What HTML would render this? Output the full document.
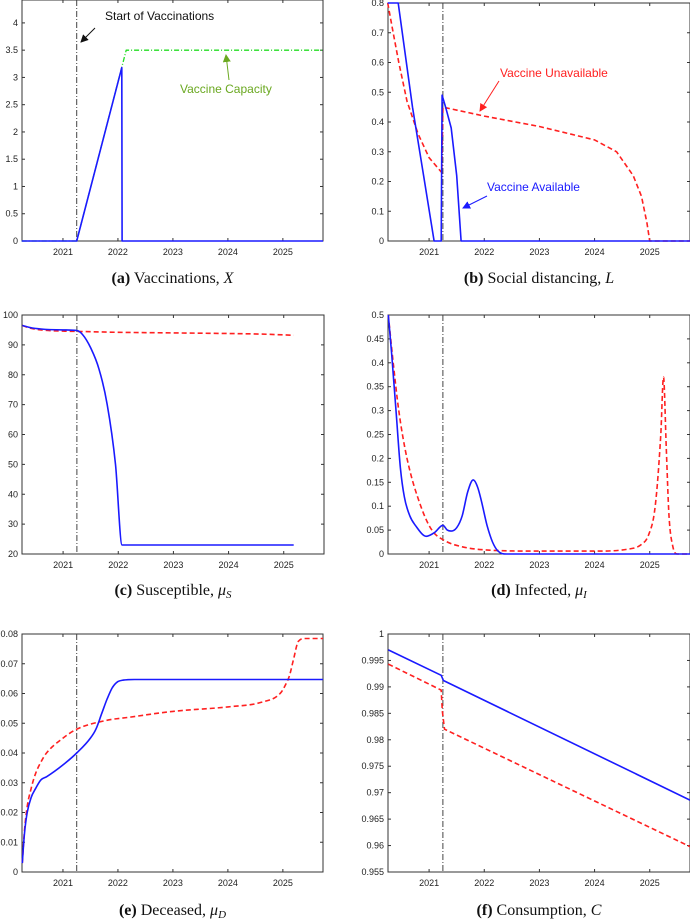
<!DOCTYPE html>
<html><head><meta charset="utf-8"><style>
html,body{margin:0;padding:0;background:#fff;}
svg{display:block;}
text{font-family:"Liberation Sans",sans-serif;}
.cap{font-family:"Liberation Serif",serif;font-size:16px;}
</style></head><body>
<svg id="fig" width="690" height="922" viewBox="0 0 690 922"></svg>
<script>
const xTicks=[2021,2022,2023,2024,2025];
const vacStart=2021.25;
// (a)
const aBlueX=[2020.25,2021.25,2022.07,2022.075,2025.73];
const aBlueY=[0,0,3.18,0,0];
const aGreenX=[2020.25,2021.25,2022.15,2025.73];
const aGreenY=[0,0,3.5,3.5];
const aTicks=[0,0.5,1,1.5,2,2.5,3,3.5,4];
// (b)
const bBlueX=[2020.25,2020.44,2020.7,2020.9,2021.09,2021.22,2021.235,2021.3,2021.4,2021.5,2021.58,2025.73];
const bBlueY=[0.8,0.8,0.45,0.22,0,0,0.49,0.45,0.38,0.22,0,0];
const bRedX=[2020.25,2020.35,2020.45,2020.6,2020.8,2021.0,2021.23,2021.25,2022,2023,2024,2024.4,2024.7,2024.85,2024.95,2025.0,2025.73];
const bRedY=[0.8,0.7,0.6,0.47,0.36,0.28,0.23,0.45,0.42,0.385,0.34,0.3,0.22,0.15,0.06,0,0];
const bTicks=[0,0.1,0.2,0.3,0.4,0.5,0.6,0.7,0.8];
// (c)
const cBlueX=[2020.26,2020.4,2020.6,2021.0,2021.25,2021.35,2021.5,2021.65,2021.8,2021.95,2022.07,2025.18];
const cBlueY=[96.5,95.8,95.3,95.0,94.8,93.5,89,82,70,50,23,23];
const cRedX=[2020.26,2020.4,2020.6,2021.0,2021.25,2022,2023,2024,2024.6,2025.18];
const cRedY=[96.5,95.6,95.0,94.6,94.5,94.2,94.0,93.8,93.6,93.2];
const cTicks=[20,30,40,50,60,70,80,90,100];
// (d)
const dBlueX=[2020.26,2020.32,2020.4,2020.48,2020.55,2020.65,2020.75,2020.95,2021.1,2021.25,2021.33,2021.4,2021.5,2021.6,2021.7,2021.8,2021.88,2021.95,2022.05,2022.15,2022.25,2022.4,2025.73];
const dBlueY=[0.5,0.42,0.3,0.18,0.12,0.08,0.06,0.037,0.045,0.06,0.05,0.048,0.055,0.08,0.13,0.155,0.14,0.11,0.06,0.025,0.006,0,0];
const dRedX=[2020.26,2020.35,2020.45,2020.6,2020.85,2021.05,2021.3,2021.6,2022.1,2023,2024,2024.6,2024.85,2024.98,2025.1,2025.2,2025.25,2025.3,2025.35,2025.42,2025.5,2025.73];
const dRedY=[0.5,0.4,0.3,0.2,0.1,0.05,0.027,0.015,0.008,0.006,0.006,0.01,0.02,0.04,0.1,0.25,0.37,0.22,0.08,0.015,0,0];
const dTicks=[0,0.05,0.1,0.15,0.2,0.25,0.3,0.35,0.4,0.45,0.5];
// (e)
const eBlueX=[2020.26,2020.3,2020.35,2020.42,2020.5,2020.6,2020.7,2021.0,2021.25,2021.5,2021.6,2021.7,2021.8,2021.9,2022.0,2022.1,2022.3,2025.73];
const eBlueY=[0.003,0.013,0.02,0.025,0.028,0.031,0.032,0.036,0.04,0.045,0.048,0.053,0.058,0.062,0.064,0.0645,0.0647,0.0647];
const eRedX=[2020.26,2020.3,2020.35,2020.42,2020.5,2020.6,2020.7,2021.0,2021.25,2021.8,2022.2,2023,2024,2024.6,2024.95,2025.05,2025.12,2025.2,2025.28,2025.4,2025.73];
const eRedY=[0.003,0.014,0.022,0.028,0.033,0.037,0.04,0.045,0.048,0.051,0.052,0.054,0.0555,0.057,0.06,0.063,0.066,0.072,0.0775,0.0785,0.0785];
const eTicks=[0,0.01,0.02,0.03,0.04,0.05,0.06,0.07,0.08];
// (f)
const fBlueX=[2020.26,2021.22,2021.26,2025.73];
const fBlueY=[0.997,0.9922,0.9912,0.9686];
const fRedX=[2020.26,2021.22,2021.24,2021.28,2025.73];
const fRedY=[0.9943,0.9894,0.9855,0.982,0.9598];
const fTicks=[0.955,0.96,0.965,0.97,0.975,0.98,0.985,0.99,0.995,1];

const NS="http://www.w3.org/2000/svg";
const svg=document.getElementById('fig');
function mk(tag,attrs,parent){const e=document.createElementNS(NS,tag);for(const k in attrs)e.setAttribute(k,attrs[k]);(parent||svg).appendChild(e);return e;}

function linPath(P){return 'M'+P.map(p=>p[0].toFixed(1)+','+p[1].toFixed(1)).join(' L');}
function monoPath(P){
  const n=P.length; if(n<2) return '';
  const d=[],m=new Array(n);
  for(let i=0;i<n-1;i++){const dx=P[i+1][0]-P[i][0];d.push(dx===0?0:(P[i+1][1]-P[i][1])/dx);}
  m[0]=d[0];m[n-1]=d[n-2];
  for(let i=1;i<n-1;i++){m[i]=(d[i-1]*d[i]<=0)?0:(d[i-1]+d[i])/2;}
  for(let i=0;i<n-1;i++){
    if(d[i]===0){m[i]=0;m[i+1]=0;continue;}
    const a=m[i]/d[i],b=m[i+1]/d[i],s=a*a+b*b;
    if(s>9){const t=3/Math.sqrt(s);m[i]=t*a*d[i];m[i+1]=t*b*d[i];}
  }
  let s='M'+P[0][0].toFixed(1)+','+P[0][1].toFixed(1);
  for(let i=0;i<n-1;i++){
    const h=(P[i+1][0]-P[i][0])/3;
    s+=' C'+(P[i][0]+h).toFixed(1)+','+(P[i][1]+m[i]*h).toFixed(1)+' '+(P[i+1][0]-h).toFixed(1)+','+(P[i+1][1]-m[i+1]*h).toFixed(1)+' '+P[i+1][0].toFixed(1)+','+P[i+1][1].toFixed(1);
  }
  return s;
}

function panel(p){
  const g=mk('g',{});
  
  
  const sx=v=>p.x0+(v-2020.255)/(2025.73-2020.255)*(p.x1-p.x0);
  const sy=v=>p.y1-(v-p.ymin)/(p.ymax-p.ymin)*(p.y1-p.y0);
  const frame=mk('rect',{x:p.x0,y:p.y0,width:p.x1-p.x0,height:p.y1-p.y0,fill:'none',stroke:'#333','stroke-width':1},g);
  
  
  xTicks.forEach(t=>{
    const x=sx(t);
    mk('line',{x1:x,x2:x,y1:p.y1,y2:p.y1-3,stroke:'#333'},g);
    mk('line',{x1:x,x2:x,y1:p.y0,y2:p.y0+3,stroke:'#333'},g);
    const tx=mk('text',{x:x,y:p.y1+14,'font-size':9,'text-anchor':'middle',fill:'#222'},g);
    tx.textContent=t;
    
    
  });
  p.yt.forEach(t=>{
    const y=sy(t);
    mk('line',{x1:p.x0,x2:p.x0+3,y1:y,y2:y,stroke:'#333'},g);
    mk('line',{x1:p.x1,x2:p.x1-3,y1:y,y2:y,stroke:'#333'},g);
    const tx=mk('text',{x:p.x0-4,y:y+3,'font-size':9,'text-anchor':'end',fill:'#222'},g);
    tx.textContent=String(t);
    
    
  });
  const vx=sx(vacStart);
  const vl=mk('line',{x1:vx,x2:vx,y1:p.y0,y2:p.y1,stroke:'#444','stroke-width':1,'stroke-dasharray':'6,2,1,2'},g);
  
  
  p.series.forEach(s=>{
    const P=s.x.map((v,i)=>[sx(v),sy(s.y[i])]);
    const pl=mk('path',{d:p.smooth?monoPath(P):linPath(P),fill:'none',stroke:s.c,'stroke-width':s.w||1.6,'stroke-dasharray':s.d||'none','stroke-linejoin':'round'},g);
    
    
  });
  const cap=mk('text',{x:(p.x0+p.x1)/2,y:p.cy,'text-anchor':'middle',class:'cap',fill:'#111'},g);
  cap.innerHTML=p.cap;
  
  
  return g;
}
panel({name:'panel-a-vaccinations',x0:22,x1:323,y0:0,y1:241,ymin:0,ymax:4.42,yt:aTicks,cy:283,smooth:false,
  cap:'<tspan font-weight="bold">(a)</tspan> Vaccinations, <tspan font-style="italic">X</tspan>',
  series:[{x:aGreenX,y:aGreenY,c:'#22dd22',d:'5,2,1,2',w:1.3,n:'vaccine-capacity-line'},{x:aBlueX,y:aBlueY,c:'#1a1aff',n:'vaccinations-line'}]});
panel({name:'panel-b-social-distancing',x0:388,x1:690,y0:3,y1:241,ymin:0,ymax:0.8,yt:bTicks,cy:283,smooth:false,
  cap:'<tspan font-weight="bold">(b)</tspan> Social distancing, <tspan font-style="italic">L</tspan>',
  series:[{x:bRedX,y:bRedY,c:'#ff2020',d:'5,3',n:'unavailable-line'},{x:bBlueX,y:bBlueY,c:'#1a1aff',n:'available-line'}]});
panel({name:'panel-c-susceptible',x0:22,x1:324,y0:315,y1:554,ymin:20,ymax:100,yt:cTicks,cy:595,smooth:true,
  cap:'<tspan font-weight="bold">(c)</tspan> Susceptible, <tspan font-style="italic">μ</tspan><tspan font-style="italic" font-size="11" dy="3">S</tspan>',
  series:[{x:cRedX,y:cRedY,c:'#ff2020',d:'5,3',n:'unavailable-line'},{x:cBlueX,y:cBlueY,c:'#1a1aff',n:'available-line'}]});
panel({name:'panel-d-infected',x0:388,x1:690,y0:315,y1:554,ymin:0,ymax:0.5,yt:dTicks,cy:595,smooth:true,
  cap:'<tspan font-weight="bold">(d)</tspan> Infected, <tspan font-style="italic">μ</tspan><tspan font-style="italic" font-size="11" dy="3">I</tspan>',
  series:[{x:dRedX,y:dRedY,c:'#ff2020',d:'5,3',n:'unavailable-line'},{x:dBlueX,y:dBlueY,c:'#1a1aff',n:'available-line'}]});
panel({name:'panel-e-deceased',x0:22,x1:323,y0:634,y1:872,ymin:0,ymax:0.08,yt:eTicks,cy:915,smooth:true,
  cap:'<tspan font-weight="bold">(e)</tspan> Deceased, <tspan font-style="italic">μ</tspan><tspan font-style="italic" font-size="11" dy="3">D</tspan>',
  series:[{x:eRedX,y:eRedY,c:'#ff2020',d:'5,3',n:'unavailable-line'},{x:eBlueX,y:eBlueY,c:'#1a1aff',n:'available-line'}]});
panel({name:'panel-f-consumption',x0:388,x1:690,y0:634,y1:872,ymin:0.955,ymax:1,yt:fTicks,cy:915,smooth:false,
  cap:'<tspan font-weight="bold">(f)</tspan> Consumption, <tspan font-style="italic">C</tspan>',
  series:[{x:fRedX,y:fRedY,c:'#ff2020',d:'5,3',n:'unavailable-line'},{x:fBlueX,y:fBlueY,c:'#1a1aff',n:'available-line'}]});

// annotations
const defs=mk('defs',{});
[['k','#111'],['g','#6aa820'],['r','#ff2020'],['b','#1a1aff']].forEach(([id,c])=>{
  const m=mk('marker',{id:'ar'+id,markerWidth:8,markerHeight:8,refX:7,refY:4,orient:'auto',markerUnits:'userSpaceOnUse'},defs);
  mk('path',{d:'M0,0 L8,4 L0,8 z',fill:c},m);
});
function note(txt,x,y,c,ax1,ay1,ax2,ay2,id,name){
  const t=mk('text',{x:x,y:y,'font-size':12,fill:c});
  t.textContent=txt;
  
  
  const l=mk('line',{x1:ax1,y1:ay1,x2:ax2,y2:ay2,stroke:c,'stroke-width':1,'marker-end':'url(#ar'+id+')'});
  
  
}
note('Start of Vaccinations',105,20,'#111',95,28,81,42,'k','start-of-vaccinations-label');
note('Vaccine Capacity',180,93,'#6aa820',229,80,226,55,'g','vaccine-capacity-label');
note('Vaccine Unavailable',500,77,'#ff2020',499,81,480,111,'r','vaccine-unavailable-label');
note('Vaccine Available',487,191,'#1a1aff',487,196,463,208,'b','vaccine-available-label');
</script>
</body></html>
